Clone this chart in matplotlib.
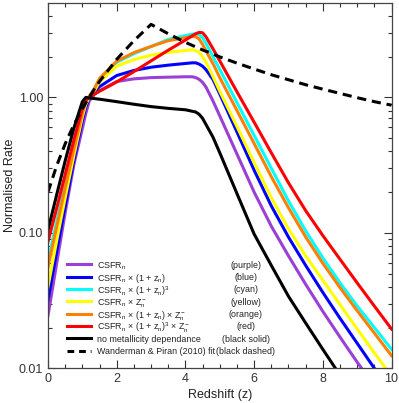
import matplotlib
matplotlib.use('Agg')
import matplotlib.pyplot as plt
from matplotlib.lines import Line2D
from matplotlib.ticker import MultipleLocator, LogLocator, NullFormatter

plt.rcParams['font.family'] = 'Liberation Sans'
plt.rcParams['mathtext.fontset'] = 'custom'
plt.rcParams['mathtext.rm'] = 'Liberation Sans'
plt.rcParams['mathtext.it'] = 'Liberation Sans:italic'
plt.rcParams['mathtext.default'] = 'regular'

# redshift grid the curves were read at
z = [0, 0.25, 0.5, 0.75, 1.0, 1.1, 1.2, 1.35, 1.5, 2.0, 2.5, 3.0, 3.5, 4.0, 4.2, 4.3,
     4.4, 4.5, 4.6, 4.8, 5.0, 5.5, 6.0, 6.5, 7.0, 7.5, 8.0, 8.5, 9.0, 9.5, 10.0]

purple = [0.0245, 0.059, 0.141, 0.316, 0.59, 0.76, 0.94, 1.05, 1.12, 1.31, 1.37, 1.40, 1.41,
          1.42, 1.42, 1.40, 1.36, 1.29, 1.19, 0.944, 0.73, 0.382, 0.20, 0.112, 0.0676,
          0.0417, 0.0263, 0.017, 0.0111, 0.0074, 0.005]
blue = [0.032, 0.072, 0.158, 0.34, 0.676, 0.85, 0.99, 1.10, 1.20, 1.45, 1.58, 1.67, 1.73,
        1.78, 1.80, 1.80, 1.76, 1.70, 1.60, 1.36, 1.06, 0.556, 0.29, 0.158, 0.093,
        0.0575, 0.0363, 0.0234, 0.0153, 0.010, 0.0068]
cyan = [0.062, 0.12, 0.23, 0.427, 0.776, 0.93, 1.02, 1.15, 1.36, 1.82, 2.10, 2.37, 2.68,
        2.86, 2.93, 2.95, 2.90, 2.76, 2.50, 2.00, 1.61, 0.917, 0.524, 0.30, 0.172,
        0.1035, 0.0653, 0.0427, 0.0288, 0.020, 0.0138]
yellow = [0.040, 0.087, 0.182, 0.37, 0.72, 0.89, 1.00, 1.12, 1.30, 1.70, 1.90, 2.05, 2.15,
          2.22, 2.25, 2.22, 2.14, 2.00, 1.82, 1.43, 1.11, 0.61, 0.33, 0.182, 0.107,
          0.0676, 0.0447, 0.0295, 0.0195, 0.013, 0.0087]
orange = [0.056, 0.11, 0.214, 0.41, 0.76, 0.93, 1.02, 1.16, 1.38, 1.85, 2.14, 2.38, 2.62,
          2.76, 2.82, 2.80, 2.70, 2.46, 2.20, 1.78, 1.40, 0.80, 0.457, 0.26, 0.153,
          0.0933, 0.0596, 0.0394, 0.0266, 0.0182, 0.0124]
red = [0.086, 0.151, 0.27, 0.48, 0.83, 0.955, 1.00, 1.06, 1.11, 1.30, 1.55, 1.86, 2.23,
       2.65, 2.85, 2.95, 3.02, 3.00, 2.80, 2.29, 1.86, 1.10, 0.656, 0.39, 0.234,
       0.146, 0.0955, 0.0638, 0.0427, 0.0288, 0.0195]
black = [0.105, 0.19, 0.34, 0.59, 0.93, 1.00, 0.99, 0.98, 0.97, 0.93, 0.89, 0.855, 0.83,
         0.81, 0.79, 0.78, 0.75, 0.70, 0.63, 0.51, 0.39, 0.195, 0.098, 0.0575, 0.034,
         0.0216, 0.0138, 0.0089, 0.0059, 0.004, 0.0027]
wp_fit = [0.20, 0.312, 0.454, 0.626, 0.82, 0.912, 1.00, 1.15, 1.31, 1.91, 2.62, 3.46, 2.95,
          2.55, 2.42, 2.36, 2.30, 2.24, 2.19, 2.09, 1.99, 1.79, 1.62, 1.47, 1.35,
          1.24, 1.15, 1.07, 0.995, 0.93, 0.876]

labels = [r'CSFR$_n$',
          r'CSFR$_n$ $\times$ (1 + z$_n$)',
          r'CSFR$_n$ $\times$ (1 + z$_n$)$^3$',
          r'CSFR$_n$ $\times$ Z$_n^-$',
          r'CSFR$_n$ $\times$ (1 + z$_n$) $\times$ Z$_n^-$',
          r'CSFR$_n$ $\times$ (1 + z$_n$)$^3$ $\times$ Z$_n^-$',
          'no metallicity dependance',
          'Wanderman & Piran (2010) fit']
colour_names = ['(purple)', '(blue)', '(cyan)', '(yellow)', '(orange)', '(red)',
                '(black solid)', '(black dashed)']

series = [purple, blue, cyan, yellow, orange, red, black, wp_fit]
colours = ['#9B3FD6', '#0000ff', '#00ffff', '#ffff00', '#ff8000', '#ff0000', 'black', 'black']
styles = ['-'] * 7 + ['--']

fig = plt.figure(figsize=(3.99, 4.03), dpi=100)
ax = fig.add_axes([0.1203, 0.0861, 0.8610, 0.9057])

for vals, col, ls in zip(series, colours, styles):
    line, = ax.plot(z, vals, color=col, lw=2.2, ls=ls, solid_joinstyle='round')
    if ls == '--':
        line.set_dashes((3, 1.9))

ax.set_yscale('log')
ax.set_xlim(0, 10)
ax.set_ylim(0.01, 4.95)
ax.set_yticks([0.01, 0.1, 1.0])
ax.set_yticklabels(['0.01', '0.10', '1.00'])
ax.yaxis.set_minor_locator(LogLocator(base=10, subs=range(2, 10)))
ax.yaxis.set_minor_formatter(NullFormatter())
ax.set_xticks([0, 2, 4, 6, 8, 10])
ax.xaxis.set_minor_locator(MultipleLocator(0.5))
ax.tick_params(which='both', direction='in', top=True, right=True, labelsize=9,
               colors='#333333', width=0.8)
ax.tick_params(which='major', length=6)
ax.tick_params(which='minor', length=3)
for s in ax.spines.values():
    s.set_color('#444444')
    s.set_linewidth(0.9)

ax.set_xlabel('Redshift (z)', fontsize=9, color='#222222', labelpad=3)
ax.set_ylabel('Normalised Rate', fontsize=9, color='#222222', labelpad=2)

# hand-built legend, two text columns
y0, dy = 0.285, 0.0338
for i, (lab, cname, col, ls) in enumerate(zip(labels, colour_names, colours, styles)):
    y = y0 - i * dy
    key = Line2D([0.0553, 0.125], [y, y], transform=ax.transAxes, color=col, lw=2.2, ls=ls)
    if ls == '--':
        key.set_dashes((2.2, 1.6))
    ax.add_line(key)
    ax.text(0.1426, y, lab, transform=ax.transAxes, fontsize=6.4, va='center_baseline',
            ha='left', color='#222222')
    ax.text(0.575, y, cname, transform=ax.transAxes, fontsize=6.4, va='center_baseline',
            ha='center', color='#222222')

fig.savefig('out.png', dpi=100)
